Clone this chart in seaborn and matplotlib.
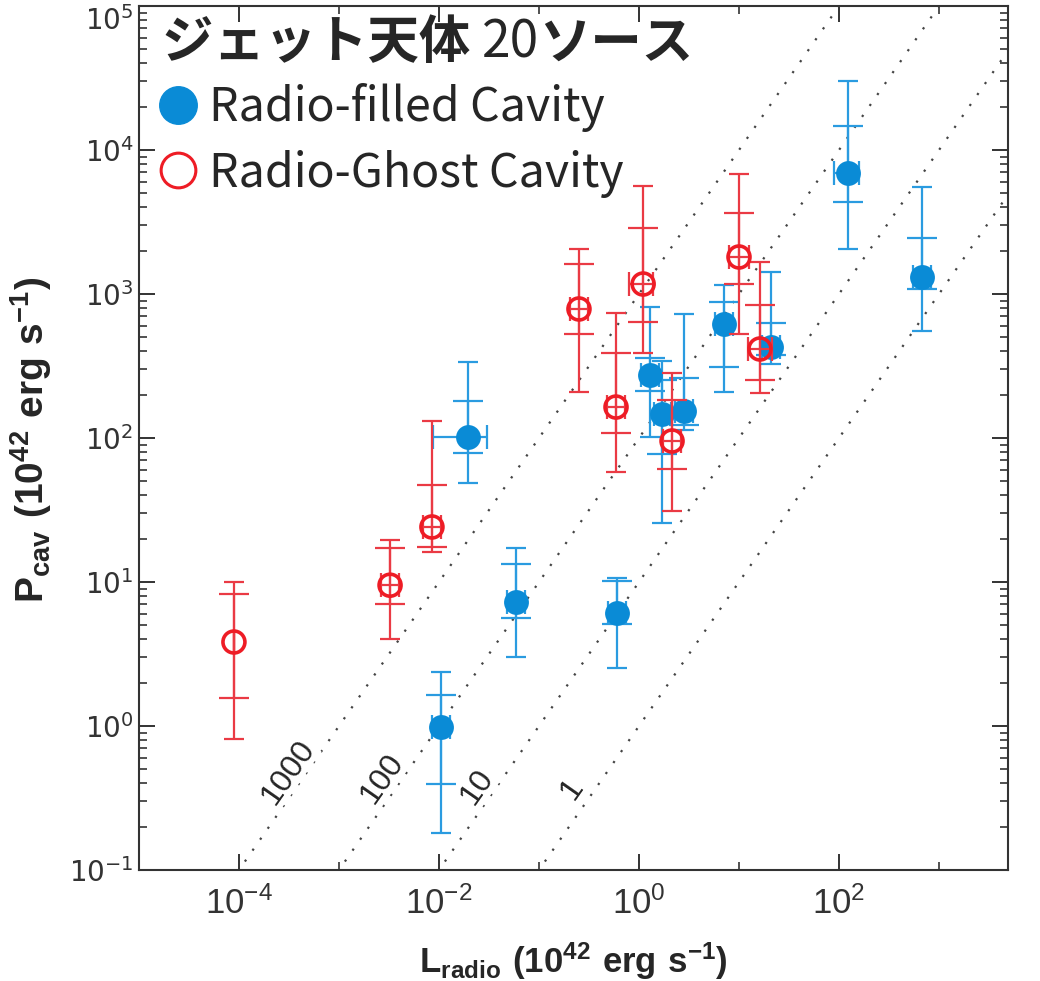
import numpy as np
import pandas as pd
import matplotlib
matplotlib.use("Agg")
import matplotlib.pyplot as plt
import seaborn as sns
from matplotlib.lines import Line2D
from matplotlib.ticker import FixedLocator, LogLocator, NullFormatter

# ---------------- data ----------------
blue_L = [0.0105, 0.0195, 0.0589, 0.603, 1.29, 1.70, 2.82, 7.08, 20.9, 123, 676]
blue_L_lo = [0.0085, 0.0087, 0.048, 0.49, 1.05, 1.40, 2.30, 5.8, 17.0, 89, 550]
blue_L_hi = [0.0130, 0.0302, 0.072, 0.74, 1.58, 2.10, 3.45, 8.7, 25.6, 158, 830]
blue_P = [0.98, 101.6, 7.26, 6.09, 274, 147, 154, 619, 428, 6918, 1312]
blue_P_outer_lo = [0.181, 48.7, 3.01, 2.53, 101.6, 25.7, 113.7, 209, 326, 2054, 553]
blue_P_outer_hi = [2.37, 337, 17.2, 10.7, 812, 343, 726, 1155, 1422, 30130, 5534]
blue_P_mid_lo = [0.395, 78.7, 5.62, 5.11, 212, 77.4, 123, 311, 377, 4355, 1084]
blue_P_mid_hi = [1.64, 181, 13.3, 10.2, 359, 253, 261, 880, 629, 14680, 2448]

red_L = [8.9e-5, 3.24e-3, 8.5e-3, 0.251, 0.589, 1.10, 2.14, 10.0, 16.2]
red_L_lo = [8.9e-5, 2.65e-3, 6.9e-3, 0.205, 0.48, 0.794, 1.75, 7.94, 12.3]
red_L_hi = [8.9e-5, 3.95e-3, 1.04e-2, 0.31, 0.72, 1.38, 2.62, 12.6, 21.4]
red_P = [3.83, 9.5, 24.1, 787, 164, 1173, 95.3, 1807, 415]
red_P_outer_lo = [0.81, 4.0, 16.2, 209, 58, 389, 31.1, 527, 205]
red_P_outer_hi = [10.0, 19.6, 131, 2054, 738, 5623, 283, 6813, 1668]
red_P_mid_lo = [1.56, 7.0, 17.5, 527, 108, 639, 60.9, 1173, 253]
red_P_mid_hi = [8.3, 17.2, 47.2, 1616, 389, 2872, 184, 3652, 839]

ratio_values = [1000, 100, 10, 1]
ratio_labels = ["1000", "100", "10", "1"]
ratio_label_x = [3.09e-4, 2.69e-3, 0.024, 0.214]
ratio_label_y = [0.48, 0.428, 0.377, 0.365]

title_parts = ["ジェット天体 ", "20", "ソース"]
legend_labels = ["Radio-filled Cavity", "Radio-Ghost Cavity"]
x_major = [1e-4, 1e-2, 1e0, 1e2]
x_major_labels = [r"$\mathdefault{10^{-4}}$", r"$\mathdefault{10^{-2}}$",
                  r"$\mathdefault{10^{0}}$", r"$\mathdefault{10^{2}}$"]
x_minor = [1e-3, 1e-1, 1e1, 1e3]
y_major = [1e-1, 1e0, 1e1, 1e2, 1e3, 1e4, 1e5]

# ---------------- style ----------------
BLUE = "#0a8bd6"
BLUE_BAR = "#2a9be0"
RED = "#ee1c25"
RED_BAR = "#ea3a44"
TXT = "#262626"

sns.set_theme(style="ticks")
plt.rcParams["font.family"] = ["Noto Sans CJK JP", "DejaVu Sans"]
NARROW = ["Liberation Sans Narrow", "Liberation Sans", "DejaVu Sans"]

fig = plt.figure(figsize=(10.4, 9.81), dpi=100)
ax = fig.add_axes([139 / 1040, (981 - 870) / 981, (1008 - 139) / 1040, (870 - 6) / 981])
ax.set_xscale("log")
ax.set_yscale("log")
ax.set_xlim(1e-5, 10 ** 3.69)
ax.set_ylim(0.1, 1e5)

# reference ratio lines
xx = np.logspace(-5, 3.69, 50)
for k in ratio_values:
    ax.plot(xx, k * xx, ls=(0, (1, 5)), color="#444444", lw=1.6, zorder=1)
for lab, lx, ly in zip(ratio_labels, ratio_label_x, ratio_label_y):
    ax.text(lx, ly, lab, rotation=55, ha="center", va="center", fontsize=23,
            family=NARROW, color=TXT, zorder=1.5,
            bbox=dict(facecolor="white", edgecolor="none", pad=0.5))

def bars(L, P, lo, hi, color, capsize, z):
    L = np.asarray(L); P = np.asarray(P)
    ax.errorbar(L, P, yerr=[P - np.asarray(lo), np.asarray(hi) - P], fmt="none",
                ecolor=color, elinewidth=1.6, capsize=capsize, capthick=1.6, zorder=z)

def xbars(L, P, lo, hi, color, z):
    L = np.asarray(L); P = np.asarray(P)
    ax.errorbar(L, P, xerr=[L - np.asarray(lo), np.asarray(hi) - L], fmt="none",
                ecolor=color, elinewidth=1.6, capsize=8.5, capthick=1.6, zorder=z)

bars(blue_L, blue_P, blue_P_outer_lo, blue_P_outer_hi, BLUE_BAR, 7, 2)
bars(blue_L, blue_P, blue_P_mid_lo, blue_P_mid_hi, BLUE_BAR, 11, 2)
xbars(blue_L, blue_P, blue_L_lo, blue_L_hi, BLUE_BAR, 2)

df_blue = pd.DataFrame({"L": blue_L, "P": blue_P})
df_red = pd.DataFrame({"L": red_L, "P": red_P})
sns.scatterplot(data=df_blue, x="L", y="P", ax=ax, s=320, color=BLUE,
                edgecolor=BLUE, linewidth=0, zorder=3, legend=False)

bars(red_L, red_P, red_P_outer_lo, red_P_outer_hi, RED_BAR, 7, 4)
bars(red_L, red_P, red_P_mid_lo, red_P_mid_hi, RED_BAR, 11, 4)
xbars(red_L, red_P, red_L_lo, red_L_hi, RED_BAR, 4)
sns.scatterplot(data=df_red, x="L", y="P", ax=ax, s=250, color=RED,
                facecolors="none", edgecolor=RED, linewidth=2.6, zorder=5, legend=False)

# axes styling
for sp in ax.spines.values():
    sp.set_linewidth(1.5)
    sp.set_color("#333333")
    sp.set_visible(True)
ax.xaxis.set_major_locator(FixedLocator(x_major))
ax.xaxis.set_minor_locator(FixedLocator(x_minor))
ax.set_xticklabels(x_major_labels)
ax.xaxis.set_minor_formatter(NullFormatter())
ax.yaxis.set_major_locator(FixedLocator(y_major))
ax.yaxis.set_minor_locator(LogLocator(base=10, subs=np.arange(2, 10), numticks=20))
ax.yaxis.set_minor_formatter(NullFormatter())
ax.set_yticklabels([r"$\mathdefault{10^{%d}}$" % int(np.log10(v)) for v in y_major])
ax.tick_params(which="major", direction="in", length=11.5, width=1.4, color="#333333",
               top=True, right=True)
ax.tick_params(which="minor", direction="in", length=5.8, width=1.2, color="#333333",
               top=True, right=True)
ax.tick_params(axis="x", which="major", pad=12, labelsize=25, labelcolor="#333333")
ax.tick_params(axis="y", which="major", pad=4, labelsize=20, labelcolor="#333333")
for t in ax.get_xticklabels():
    t.set_family(NARROW)
for t in ax.get_yticklabels():
    t.set_family(["DejaVu Sans"])
ax.yaxis.get_major_ticks()[-1].label1.set_verticalalignment("top")

ax.set_xlabel(r"$\mathdefault{L_{radio}\ (10^{42}\ erg\ s^{-1})}$", fontsize=25,
              fontweight="bold", family=NARROW, color=TXT)
ax.set_ylabel(r"$\mathdefault{P_{cav}\ (10^{42}\ erg\ s^{-1})}$", fontsize=28,
              fontweight="bold", family=NARROW, color=TXT)
ax.xaxis.set_label_coords((573 - 139) / 869, (870 - 940) / 864)
ax.yaxis.set_label_coords((54 - 139) / 869, (870 - 440) / 864)

# title
fs_title = 37
t1 = ax.text((162 - 139) / 869, (870 - 43) / 864, title_parts[0], transform=ax.transAxes,
             fontsize=fs_title, fontweight="bold", va="center", ha="left", color=TXT, zorder=6)
t2 = ax.annotate(title_parts[1], xy=(1, 0.5), xycoords=t1, fontsize=fs_title,
                 fontweight="normal", va="center", ha="left", color=TXT, zorder=6)
t3 = ax.annotate(title_parts[2], xy=(1, 0.5), xycoords=t2, fontsize=fs_title,
                 fontweight="bold", va="center", ha="left", color=TXT, zorder=6)

# legend
h1 = Line2D([], [], marker="o", ls="none", ms=27, mfc=BLUE, mec=BLUE)
h2 = Line2D([], [], marker="o", ls="none", ms=25, mfc="none", mec=RED, mew=2.2)
leg = ax.legend([h1, h2], legend_labels, loc="upper left",
                bbox_to_anchor=((152 - 139) / 869, (870 - 83) / 864),
                frameon=False, fontsize=33.5, handletextpad=0.1, handlelength=1.13,
                labelspacing=0.37, borderaxespad=0, borderpad=0, labelcolor=TXT)

fig.savefig("out.png", dpi=100)
